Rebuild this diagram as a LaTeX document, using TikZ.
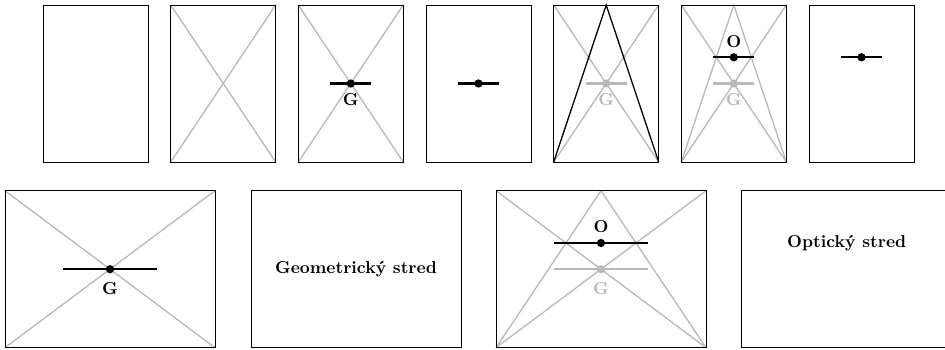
\documentclass[tikz,border=0pt]{standalone}
\tikzset{
  frame/.style={draw=black, line width=0.5pt},
  guide/.style={draw=black!28, line width=0.75pt},
  tri/.style={draw=black, line width=0.75pt},
  bar/.style={draw=black, line width=1.2pt},
  gbar/.style={draw=black!28, line width=1.2pt},
  dot/.style={fill=black},
  gdot/.style={fill=black!28},
  lbl/.style={font=\bfseries, inner sep=0pt, text=black},
  glbl/.style={font=\bfseries, inner sep=0pt, text=black!28},
}
\begin{document}
\begin{tikzpicture}[x=0.578pt,y=-0.578pt]
\useasboundingbox (0,0) rectangle (945,349);
\clip (0,0) rectangle (945,349);
% ---------- top row ----------
% 1
\begin{scope}[shift={(43,5)}]
  \draw[frame] (0,0) rectangle (105,157);
\end{scope}
% 2
\begin{scope}[shift={(170.7,5)}]
  \draw[guide] (0,0) -- (105,157) (105,0) -- (0,157);
  \draw[frame] (0,0) rectangle (105,157);
\end{scope}
% 3
\begin{scope}[shift={(298.3,5)}]
  \draw[guide] (0,0) -- (105,157) (105,0) -- (0,157);
  \draw[frame] (0,0) rectangle (105,157);
  \draw[bar] (32,78.5) -- (73,78.5);
  \fill[dot] (52.5,78.5) circle[radius=2.4pt];
  \node[lbl] (g3) at (52.5,95) {G};
\end{scope}
% 4
\begin{scope}[shift={(426,5)}]
  \draw[frame] (0,0) rectangle (105,157);
  \draw[bar] (32,78.5) -- (73,78.5);
  \fill[dot] (52.5,78.5) circle[radius=2.4pt];
\end{scope}
% 5
\begin{scope}[shift={(553.7,5)}]
  \draw[guide] (0,0) -- (105,157) (105,0) -- (0,157);
  \draw[gbar] (32,78.5) -- (73,78.5);
  \fill[gdot] (52.5,78.5) circle[radius=2.4pt];
  \node[glbl] (g5) at (52.5,95) {G};
  \draw[frame] (0,0) rectangle (105,157);
  \draw[tri] (0,157) -- (52.5,0) -- (105,157);
\end{scope}
% 6
\begin{scope}[shift={(681.3,5)}]
  \draw[guide] (0,0) -- (105,157) (105,0) -- (0,157);
  \draw[guide] (0,157) -- (52.5,0) -- (105,157);
  \draw[gbar] (32,78.5) -- (73,78.5);
  \fill[gdot] (52.5,78.5) circle[radius=2.4pt];
  \node[glbl] (g6) at (52.5,95) {G};
  \draw[frame] (0,0) rectangle (105,157);
  \draw[bar] (32,52.3) -- (73,52.3);
  \fill[dot] (52.5,52.3) circle[radius=2.4pt];
  \node[lbl] (o6) at (52.5,36.5) {O};
\end{scope}
% 7
\begin{scope}[shift={(809,5)}]
  \draw[frame] (0,0) rectangle (105,157);
  \draw[bar] (32,52.3) -- (73,52.3);
  \fill[dot] (52.5,52.3) circle[radius=2.4pt];
\end{scope}
% ---------- bottom row ----------
% 1
\begin{scope}[shift={(5,190.7)}]
  \draw[guide] (0,0) -- (210,157) (210,0) -- (0,157);
  \draw[frame] (0,0) rectangle (210,157);
  \draw[bar] (58,78.5) -- (152,78.5);
  \fill[dot] (105,78.5) circle[radius=2.4pt];
  \node[lbl] (g8) at (105,97.5) {G};
\end{scope}
% 2
\begin{scope}[shift={(251,190.7)}]
  \draw[frame] (0,0) rectangle (210,157);
  \node[lbl] (t9) at (105,78.5) {Geometrický stred};
\end{scope}
% 3
\begin{scope}[shift={(496,190.7)}]
  \draw[guide] (0,0) -- (210,157) (210,0) -- (0,157);
  \draw[guide] (0,157) -- (105,0) -- (210,157);
  \draw[gbar] (58,78.5) -- (152,78.5);
  \fill[gdot] (105,78.5) circle[radius=2.4pt];
  \node[glbl] (g10) at (105,97.5) {G};
  \draw[frame] (0,0) rectangle (210,157);
  \draw[bar] (58,52.3) -- (152,52.3);
  \fill[dot] (105,52.3) circle[radius=2.4pt];
  \node[lbl] (o10) at (105,36) {O};
\end{scope}
% 4
\begin{scope}[shift={(741.7,190.7)}]
  \draw[frame] (0,0) rectangle (210,157);
  \node[lbl] (t11) at (105,52.3) {Optický stred};
\end{scope}
\end{tikzpicture}
\end{document}
